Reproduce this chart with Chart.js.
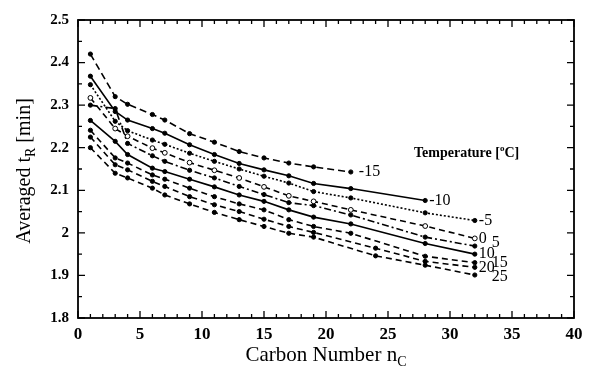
<!DOCTYPE html>
<html>
<head>
<meta charset="utf-8">
<script src="https://cdn.jsdelivr.net/npm/chart.js@4.4.1/dist/chart.umd.min.js"></script>
<style>
  html, body { margin: 0; padding: 0; background: #fff; }
  #wrap { width: 590px; height: 373px; }
</style>
</head>
<body>
<div id="wrap"><canvas id="tr"></canvas></div>
<script>
// carbon numbers (the 20 and 25 runs have their late point at 24 instead of 22)
const nC = [1, 3, 4, 6, 7, 9, 11, 13, 15, 17, 19, 22, 28, 32];
const nCb = [1, 3, 4, 6, 7, 9, 11, 13, 15, 17, 19, 24, 28, 32];

// averaged retention time [min] per temperature
const tm15 = [2.420, 2.320, 2.302, 2.278, 2.265, 2.233, 2.213, 2.191, 2.176, 2.164, 2.155, 2.143];
const tm10 = [2.368, 2.285, 2.265, 2.245, 2.234, 2.207, 2.184, 2.163, 2.148, 2.134, 2.116, 2.104, 2.076];
const tm5  = [2.348, 2.262, 2.240, 2.218, 2.208, 2.187, 2.168, 2.150, 2.133, 2.117, 2.097, 2.082, 2.047, 2.029];
const t0   = [2.317, 2.245, 2.227, 2.199, 2.188, 2.165, 2.147, 2.129, 2.108, 2.087, 2.074, 2.054, 2.016, 1.987];
const t5   = [2.300, 2.292, 2.210, 2.181, 2.168, 2.147, 2.129, 2.109, 2.090, 2.071, 2.064, 2.042, 1.990, 1.969];
const t10  = [2.264, 2.215, 2.184, 2.152, 2.144, 2.126, 2.108, 2.089, 2.074, 2.054, 2.037, 2.021, 1.975, 1.950];
const t15  = [2.241, 2.176, 2.164, 2.136, 2.126, 2.105, 2.085, 2.068, 2.054, 2.031, 2.015, 1.999, 1.945, 1.930];
const t20  = [2.225, 2.160, 2.148, 2.121, 2.109, 2.085, 2.066, 2.050, 2.032, 2.015, 2.001, 1.964, 1.933, 1.919];
const t25  = [2.200, 2.140, 2.129, 2.105, 2.089, 2.068, 2.048, 2.031, 2.015, 1.999, 1.990, 1.946, 1.924, 1.901];

const temps = ["-15", "-10", "-5", "0", "5", "10", "15", "20", "25"];
const xTicks = [0, 5, 10, 15, 20, 25, 30, 35, 40];
const yTicks = [1.8, 1.9, 2.0, 2.1, 2.2, 2.3, 2.4, 2.5];

const SERIF = "'Liberation Serif', 'Times New Roman', serif";
Chart.defaults.font.family = SERIF;
Chart.defaults.color = "#000";

function pts(xs, ys) {
  return ys.map((y, i) => ({ x: xs[i], y: y }));
}

// line style per series: dash pattern, open marker, label nudge
const styles = [
  { dash: [7, 4], dx: 4 },
  { dash: [] },
  { dash: [2, 2] },
  { dash: [6, 4], open: true },
  { dash: [7, 3, 2, 3], dx: 13, dy: -3 },
  { dash: [] },
  { dash: [6, 4], dx: 13 },
  { dash: [6, 4] },
  { dash: [6, 4], dx: 13, dy: 2 }
];
const seriesY = [tm15, tm10, tm5, t0, t5, t10, t15, t20, t25];
const seriesX = [nC, nC, nC, nC, nC, nC, nC, nCb, nCb];

const datasets = seriesY.map((ys, i) => ({
  label: temps[i],
  data: pts(seriesX[i], ys),
  borderColor: "#000",
  borderWidth: 1.6,
  borderDash: styles[i].dash,
  pointRadius: styles[i].open ? 2.4 : 2.1,
  pointBackgroundColor: styles[i].open ? "#fff" : "#000",
  pointBorderColor: "#000",
  pointBorderWidth: 1,
  tension: 0
}));

// frame, inward ticks, titles and the end-of-line labels
const decor = {
  id: "decor",
  afterDraw(chart) {
    const { ctx, chartArea: a, scales: { x, y } } = chart;
    ctx.save();
    ctx.strokeStyle = "#000";
    ctx.lineWidth = 1.8;
    ctx.strokeRect(a.left, a.top, a.right - a.left, a.bottom - a.top);

    ctx.lineWidth = 1.3;
    ctx.beginPath();
    for (let v = 0; v <= 40; v++) {
      const px = x.getPixelForValue(v);
      const len = v % 5 === 0 ? 7 : 4;
      ctx.moveTo(px, a.bottom); ctx.lineTo(px, a.bottom - len);
      ctx.moveTo(px, a.top); ctx.lineTo(px, a.top + len);
    }
    for (let k = 0; k <= 14; k++) {
      const py = y.getPixelForValue(1.8 + k * 0.05);
      const len = k % 2 === 0 ? 7 : 4;
      ctx.moveTo(a.left, py); ctx.lineTo(a.left + len, py);
      ctx.moveTo(a.right, py); ctx.lineTo(a.right - len, py);
    }
    ctx.stroke();

    // labels at the end of each curve
    ctx.fillStyle = "#000";
    ctx.font = "16px " + SERIF;
    ctx.textBaseline = "middle";
    ctx.textAlign = "left";
    chart.data.datasets.forEach((ds, i) => {
      const last = ds.data[ds.data.length - 1];
      const px = x.getPixelForValue(last.x);
      const py = y.getPixelForValue(last.y);
      ctx.fillText(ds.label, px + 4 + (styles[i].dx || 0), py + (styles[i].dy || 0));
    });

    // legend heading
    ctx.font = "bold 14px " + SERIF;
    let tx = 414, ty = 153;
    const head = "Temperature [";
    ctx.fillText(head, tx, ty);
    tx += ctx.measureText(head).width;
    ctx.font = "bold 9px " + SERIF;
    ctx.fillText("o", tx, ty - 4);
    tx += ctx.measureText("o").width;
    ctx.font = "bold 14px " + SERIF;
    ctx.fillText("C]", tx, ty);

    // x axis title with subscript
    ctx.font = "14px " + SERIF;
    const subW = ctx.measureText("C").width;
    ctx.font = "21px " + SERIF;
    const xt = "Carbon Number n";
    const xw = ctx.measureText(xt).width + subW;
    let sx = 326 - xw / 2;
    ctx.fillText(xt, sx, 355);
    sx += ctx.measureText(xt).width;
    ctx.font = "14px " + SERIF;
    ctx.fillText("C", sx, 362);

    // y axis title, rotated
    ctx.translate(25, 171);
    ctx.rotate(-Math.PI / 2);
    ctx.font = "20px " + SERIF;
    const p1 = "Averaged t", p2 = "R", p3 = " [min]";
    const w1 = ctx.measureText(p1).width, w3 = ctx.measureText(p3).width;
    ctx.font = "14px " + SERIF;
    const w2 = ctx.measureText(p2).width;
    let yx = -(w1 + w2 + w3) / 2;
    ctx.font = "20px " + SERIF;
    ctx.fillText(p1, yx, 0);
    yx += w1;
    ctx.font = "14px " + SERIF;
    ctx.fillText(p2, yx, 6);
    yx += w2;
    ctx.font = "20px " + SERIF;
    ctx.fillText(p3, yx, 0);
    ctx.restore();
  }
};

new Chart(document.getElementById("tr"), {
  type: "line",
  data: { datasets },
  options: {
    responsive: true,
    maintainAspectRatio: false,
    animation: false,
    layout: { padding: { left: 0, top: 20, right: 16, bottom: 0 } },
    plugins: { legend: { display: false }, tooltip: { enabled: false } },
    scales: {
      x: {
        type: "linear",
        min: 0, max: 40,
        afterBuildTicks: s => { s.ticks = xTicks.map(v => ({ value: v })); },
        afterFit: s => { s.height = 55; },
        grid: { display: false, drawTicks: false },
        border: { display: false },
        ticks: { padding: 6, font: { size: 17, weight: "bold" }, maxRotation: 0 }
      },
      y: {
        min: 1.8, max: 2.5,
        afterBuildTicks: s => { s.ticks = yTicks.map(v => ({ value: v })); },
        afterFit: s => { s.width = 78; },
        grid: { display: false, drawTicks: false },
        border: { display: false },
        ticks: {
          padding: 9,
          font: { size: 15, weight: "bold" },
          callback: v => String(Math.round(v * 10) / 10)
        }
      }
    }
  },
  plugins: [decor]
});
</script>
</body>
</html>
